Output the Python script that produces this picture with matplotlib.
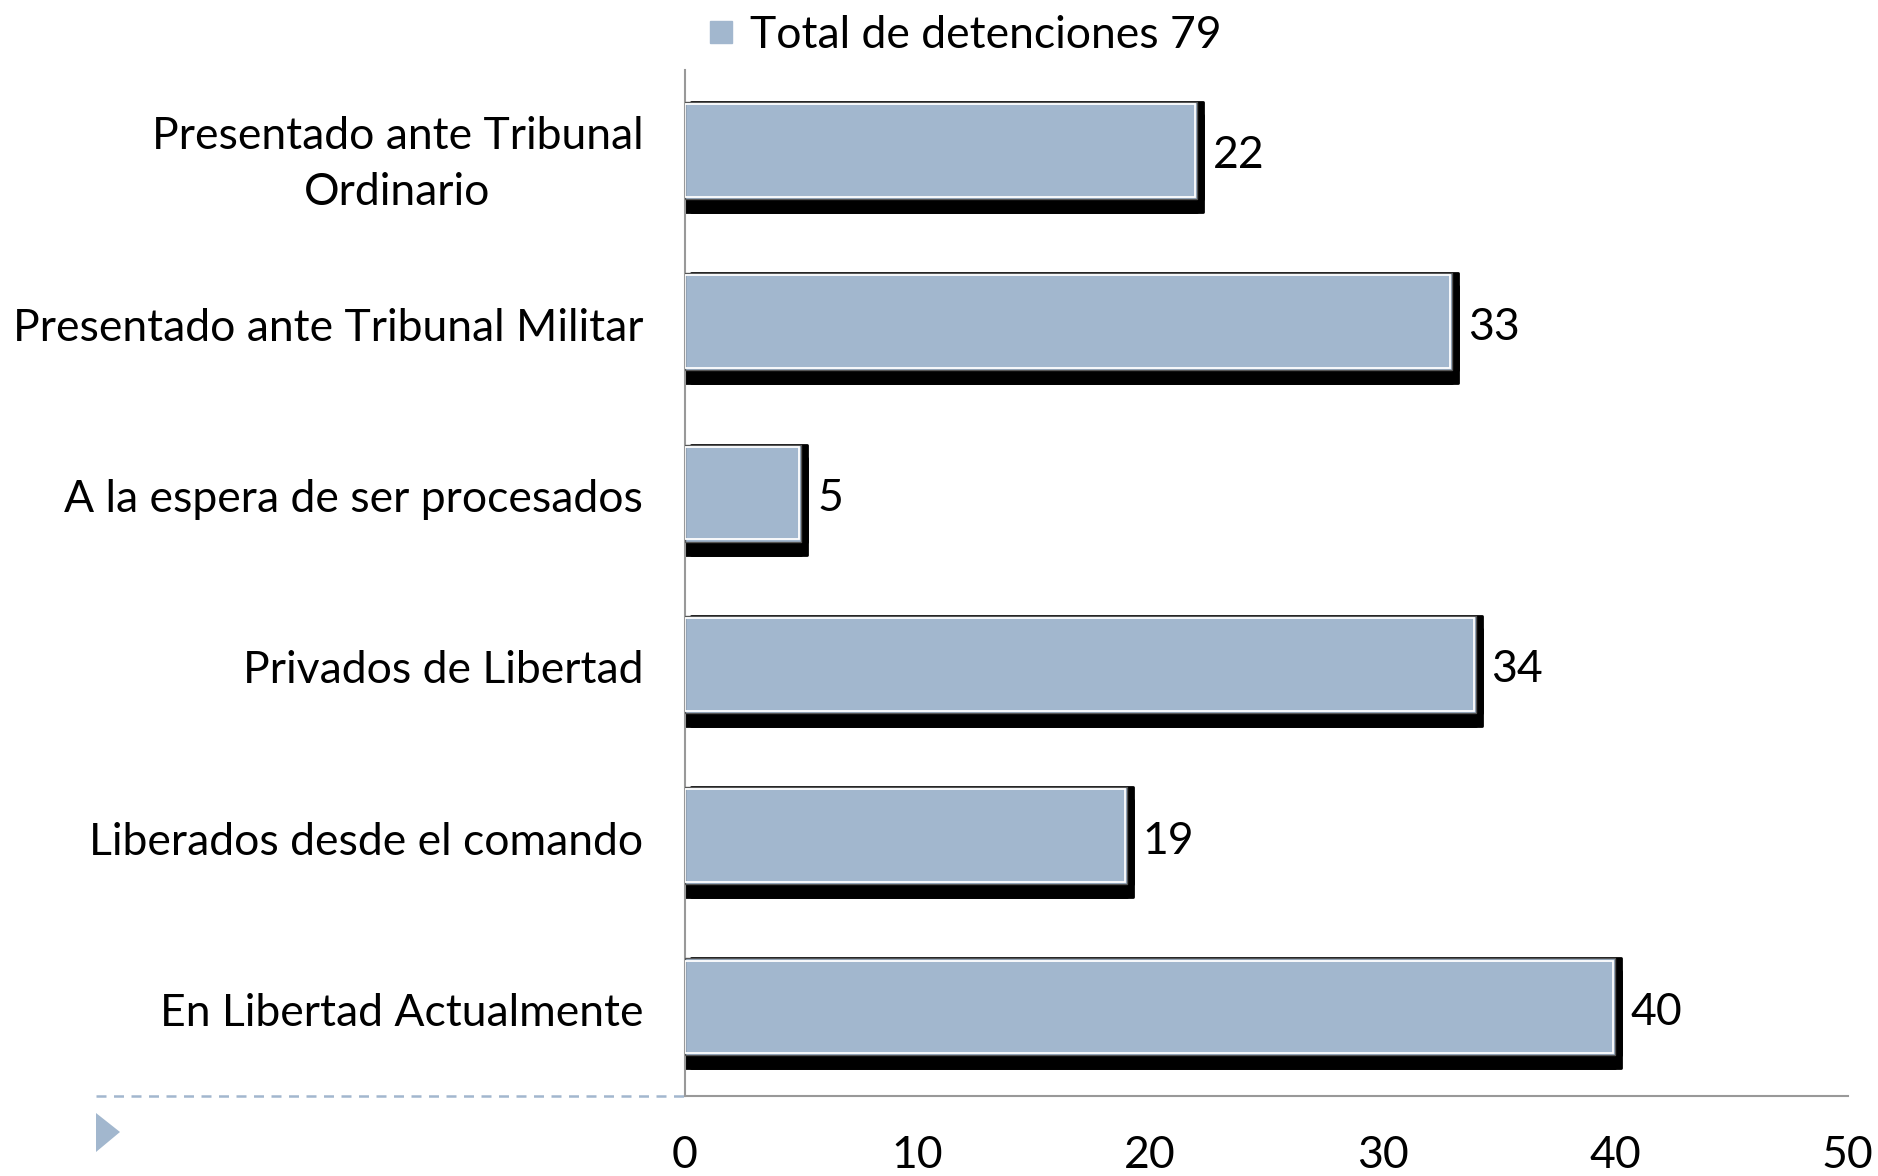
import matplotlib
matplotlib.use("Agg")
import matplotlib.pyplot as plt
import matplotlib.transforms as mtransforms
from matplotlib.lines import Line2D
from matplotlib.patches import Polygon

categories = ["Presentado ante Tribunal\nOrdinario",
              "Presentado ante Tribunal Militar",
              "A la espera de ser procesados",
              "Privados de Libertad",
              "Liberados desde el comando",
              "En Libertad Actualmente"]
values = [22, 33, 5, 34, 19, 40]
series_name = "Total de detenciones 79"
xticks = [0, 10, 20, 30, 40, 50]

plt.rcParams['font.family'] = ['Lato', 'DejaVu Sans']
BAR = '#A2B7CE'
FS = 32

W, H = 1878, 1176
fig = plt.figure(figsize=(W / 100, H / 100), dpi=100)
step = 171.3
ax_bottom = 1096
ax_h = 5.99 * step
ax = fig.add_axes([685 / W, 1 - ax_bottom / H, (1847.5 - 685) / W, ax_h / H])

ypos = list(range(len(categories)))
bh = 0.566

# shadows (offset copies of the bars)
for dx, dy in [(6, 0), (6, -13), (0, -13)]:
    tr = ax.transData + mtransforms.ScaledTranslation(dx / 100, dy / 100, fig.dpi_scale_trans)
    ax.barh(ypos, values, height=bh, color='black', edgecolor='black', linewidth=2,
            joinstyle='round', transform=tr, zorder=2)

ax.barh(ypos, values, height=bh, color=BAR, edgecolor='#555555', linewidth=1.0, zorder=3)
ax.barh(ypos, [v - 0.08 for v in values], height=bh - 0.025, color='none', edgecolor='white',
        linewidth=1.3, zorder=4)

for y, v in zip(ypos, values):
    ax.annotate(str(v), (v, y), xytext=(11.5, -4), textcoords='offset points',
                va='center', ha='left', fontsize=FS, color='black')

ax.set_xlim(0, 50)
ax.set_ylim(5.52, -0.47)
ax.set_xticks(xticks)
ax.set_xticklabels([str(t) for t in xticks], fontsize=FS)
ax.set_yticks(ypos)
ax.set_yticklabels(categories, fontsize=FS, linespacing=1.45, multialignment='center')
ax.tick_params(axis='both', length=0)
ax.tick_params(axis='x', pad=28)
ax.tick_params(axis='y', pad=30)
for lab in ax.get_yticklabels():
    lab.set_transform(lab.get_transform() +
                      mtransforms.ScaledTranslation(0, -2.5 / 100, fig.dpi_scale_trans))
for s in ['top', 'right']:
    ax.spines[s].set_visible(False)
for s in ['left', 'bottom']:
    ax.spines[s].set_color('#999999')
    ax.spines[s].set_linewidth(1.5)

# legend
handle = Line2D([], [], marker='s', linestyle='none', markersize=16.5, color=BAR)
fig.legend([handle], [series_name], loc='center left', bbox_to_anchor=(708 / W, 1 - 35 / H),
           frameon=False, fontsize=FS, handlelength=0.6, handletextpad=0.35,
           borderaxespad=0, borderpad=0)

# decorative dashed line and triangle
fig.add_artist(Line2D([96 / W, 685 / W], [1 - 1096 / H] * 2, transform=fig.transFigure,
                      color='#A2B7CE', linestyle=(0, (4, 3)), linewidth=1.8))
fig.add_artist(Polygon([[96 / W, 1 - 1113 / H], [96 / W, 1 - 1152 / H],
                        [120 / W, 1 - 1132 / H]], closed=True, transform=fig.transFigure,
                       facecolor='#A2B7CE', edgecolor='none'))

fig.savefig('out.png', dpi=100)
